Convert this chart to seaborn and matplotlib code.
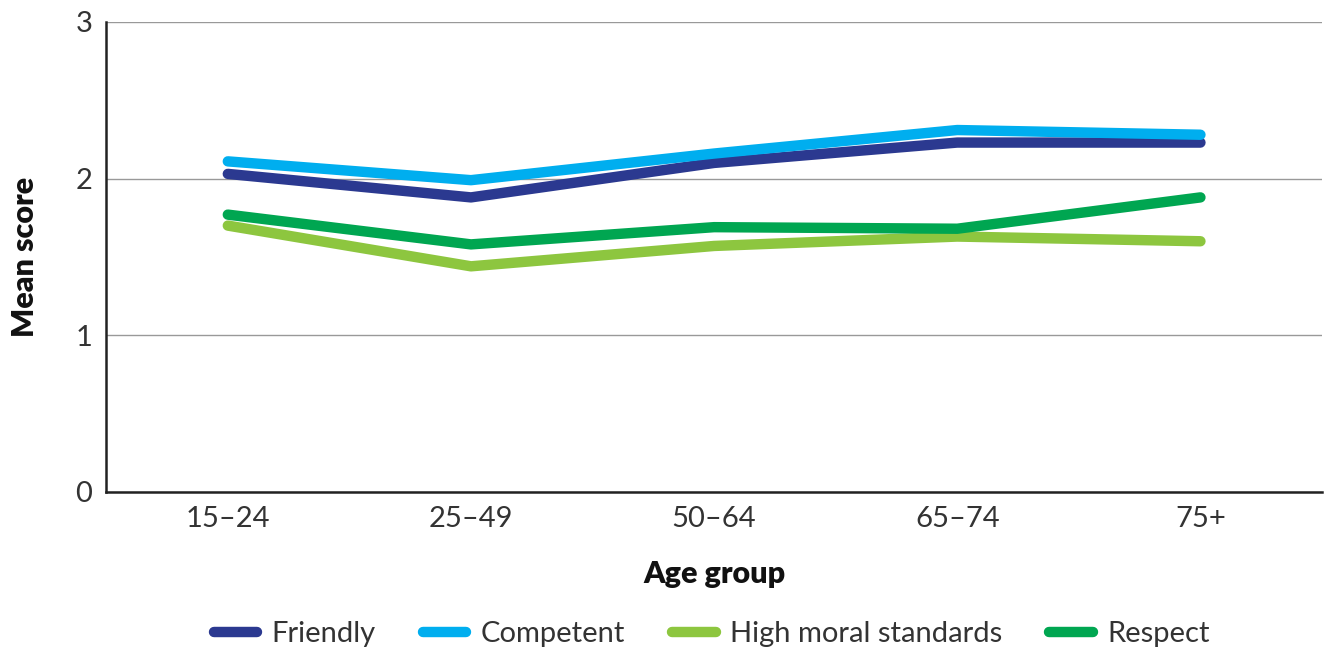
import pandas as pd
import matplotlib
matplotlib.use("Agg")
import matplotlib.pyplot as plt
import seaborn as sns

age_groups = ["15–24", "25–49", "50–64", "65–74", "75+"]
friendly = [2.03, 1.88, 2.10, 2.23, 2.23]
competent = [2.11, 1.99, 2.16, 2.31, 2.28]
high_moral = [1.70, 1.44, 1.57, 1.63, 1.60]
respect = [1.77, 1.58, 1.69, 1.68, 1.88]

series_names = ["Friendly", "Competent", "High moral standards", "Respect"]
colors = ["#2B3990", "#00AEEF", "#8DC63F", "#00A651"]

rows = []
for name, vals in zip(series_names, [friendly, competent, high_moral, respect]):
    for i, v in enumerate(vals):
        rows.append({"pos": i, "Age group": age_groups[i], "score": v, "series": name})
df = pd.DataFrame(rows)

sns.set_style("white")
plt.rcParams["font.family"] = ["Lato", "DejaVu Sans"]

fig = plt.figure(figsize=(13.28, 6.55), dpi=100)
ax = fig.add_axes([0.08, 0.249, 0.9155, 0.7175])

sns.lineplot(data=df, x="pos", y="score", hue="series", hue_order=series_names,
             palette=colors, linewidth=7.5, solid_capstyle="round", ax=ax, legend=False)

ax.set_xlim(-0.5, 4.5)
ax.set_ylim(0, 3)
ax.set_yticks([0, 1, 2, 3])
ax.set_xticks(range(len(age_groups)))
ax.set_xticklabels(age_groups)
ax.tick_params(axis="both", length=0, labelsize=21, colors="#333333", pad=10)
ax.yaxis.grid(True, color="#999999", linewidth=1)
ax.set_axisbelow(True)
for s in ["top", "right"]:
    ax.spines[s].set_visible(False)
for s in ["left", "bottom"]:
    ax.spines[s].set_color("#222222")
    ax.spines[s].set_linewidth(1.8)

ax.set_xlabel("Age group", fontsize=22, fontweight="heavy", labelpad=20, color="#111111")
ax.set_ylabel("Mean score", fontsize=22, fontweight="heavy", labelpad=26, color="#111111")

handles = [plt.Line2D([], [], color=c, linewidth=7.5, solid_capstyle="round") for c in colors]
leg = fig.legend(handles, series_names, loc="center", bbox_to_anchor=(0.536, 0.032), ncol=4,
                 frameon=False, fontsize=21, handlelength=1.5, columnspacing=1.6, handletextpad=0.5)
for t in leg.get_texts():
    t.set_color("#333333")

fig.savefig("out.png", dpi=100)
